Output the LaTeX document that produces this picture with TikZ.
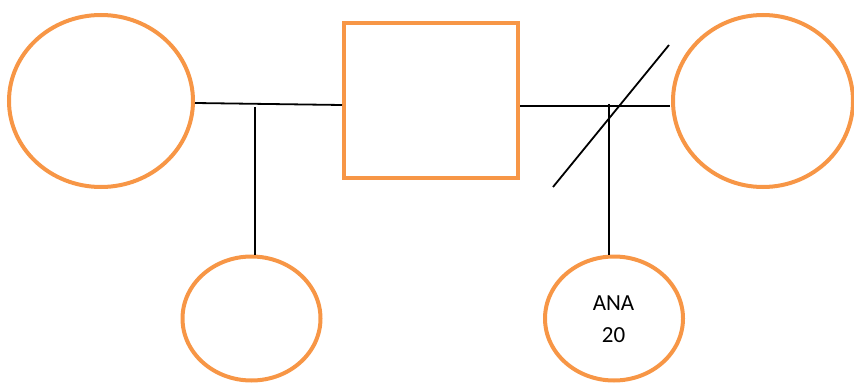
\documentclass[tikz,border=0pt]{standalone}
\usepackage{fontspec}
\setmainfont{Carlito}
\usetikzlibrary{shapes.geometric}
\definecolor{orng}{HTML}{F79646}
\begin{document}
\begin{tikzpicture}[x=1pt,y=-1pt,
  person/.style={draw=orng,line width=4pt,ellipse,inner sep=0pt,fill=none},
  male/.style={draw=orng,line width=4pt,rectangle,inner sep=0pt},
  link/.style={draw=black,line width=1.8pt}]
\useasboundingbox (0,0) rectangle (854,385);
\node[person,minimum width=184pt,minimum height=172pt] (L) at (101,101) {};
\node[male,minimum width=174pt,minimum height=155pt] (M) at (431,100.5) {};
\node[person,minimum width=180pt,minimum height=172pt] (R) at (763,101) {};
\node[person,minimum width=138pt,minimum height=124pt] (C1) at (251.5,318.5) {};
\node[person,minimum width=138pt,minimum height=124pt] (C2) at (614,318.5) {};
\node[align=center,inner sep=0pt,font=\fontsize{23}{31.6}\selectfont] (T) at (613.5,319) {ANA\\20};
\coordinate (la) at (195,103);
\coordinate (lb) at (342,105);
\coordinate (lv) at (255,107);
\coordinate (ra) at (520,106);
\coordinate (rb) at (670,106);
\coordinate (rv) at (609,104);
\coordinate (d1) at (553,187);
\coordinate (d2) at (669,45);
\draw[link] (la) -- (lb);
\draw[link] (lv) -- (lv |- C1.north);
\draw[link] (ra) -- (rb);
\draw[link] (rv) -- (rv |- C2.north);
\draw[link] (d1) -- (d2);
\end{tikzpicture}
\end{document}
